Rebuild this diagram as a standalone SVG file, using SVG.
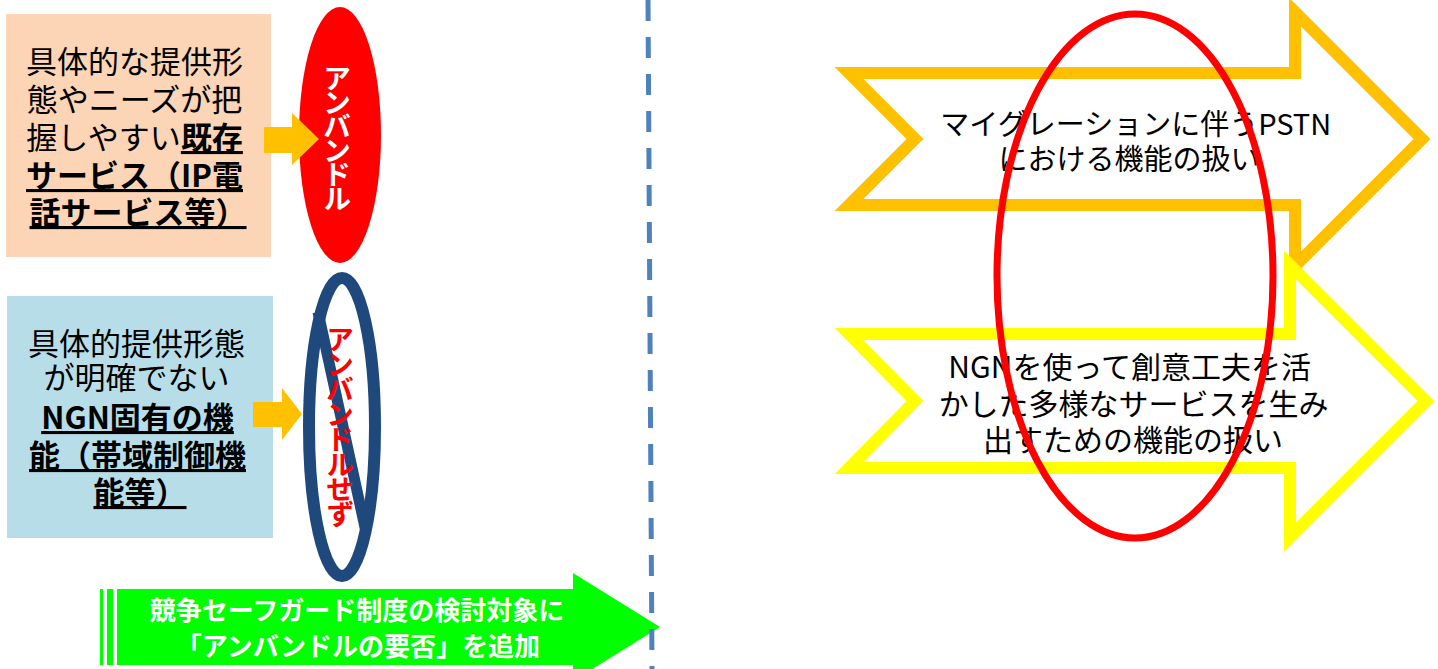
<svg xmlns="http://www.w3.org/2000/svg" width="1438" height="669" viewBox="0 0 1438 669">
<style>
.jp{font-family:"Noto Sans CJK JP","Noto Sans",sans-serif}
.lbl{font-size:31px;fill:#000}
.b{font-weight:bold}
.u{text-decoration:underline}
.blk{fill:#FFC000}
.chev{fill:#FFFFFF;stroke-width:12;stroke-linejoin:miter}
.rt{font-size:29px;fill:#000;text-anchor:middle}
.vt{writing-mode:vertical-rl;text-anchor:middle;font-weight:bold}
</style>
<rect width="1438" height="669" fill="#FFFFFF"/>

<g id="node-existing">
<rect x="6" y="14" width="265" height="243" fill="#FBD5B5"/>
<text class="jp lbl" text-anchor="middle">
<tspan x="138" y="73">具体的な提供形</tspan>
<tspan x="138" y="111">態やニーズが把</tspan>
<tspan x="138" y="149">握しやすい<tspan class="b u">既存</tspan></tspan>
<tspan x="138" y="187" class="b u">サービス（IP電</tspan>
<tspan x="138" y="224" class="b u">話サービス等）</tspan>
</text>
</g>

<g id="node-unbundle">
<ellipse cx="340" cy="135" rx="41" ry="128" fill="#FF0000"/>
<text class="jp vt" x="337" y="136" font-size="28" fill="#FFFFFF" letter-spacing="-4">アンバンドル</text>
</g>

<g id="node-ngn">
<rect x="7" y="296" width="266" height="242" fill="#B7DEE8"/>
<text class="jp lbl" text-anchor="middle">
<tspan x="140" y="355">具体的提供形態</tspan>
<tspan x="140" y="389">が明確でない</tspan>
<tspan x="141" y="429" class="b u">NGN固有の機</tspan>
<tspan x="141" y="467" class="b u">能（帯域制御機</tspan>
<tspan x="140" y="504" class="b u">能等）</tspan>
</text>
</g>

<g id="node-no-unbundle">
<ellipse cx="342" cy="427" rx="33" ry="149" fill="none" stroke="#1F497D" stroke-width="12"/>
<line x1="318" y1="312" x2="366" y2="532" stroke="#1F497D" stroke-width="11"/>
<text class="jp vt" x="340" y="425" font-size="28" fill="#FF0000" letter-spacing="-3">アンバンドルせず</text>
</g>

<g id="connectors">
<polygon class="blk" points="264,127 292,127 292,113 319,139 292,165 292,153 264,153"/>
<polygon class="blk" points="253,402 282,402 282,388 302,414 282,440 282,427 253,427"/>
</g>

<g id="node-safeguard">
<rect x="100" y="589" width="3" height="76" fill="#00FF00"/>
<rect x="107" y="589" width="6" height="76" fill="#00FF00"/>
<polygon points="117,589 573,589 573,573 660,627 573,681 573,665 117,665" fill="#00FF00"/>
<text class="jp b" font-size="26" fill="#FFFFFF" text-anchor="middle">
<tspan x="360" y="620">競争セーフガード制度の検討対象に</tspan>
<tspan x="358" y="656">「アンバンドルの要否」を追加</tspan>
</text>
</g>

<g id="divider">
<line x1="648" y1="0" x2="652" y2="669" stroke="#4F81BD" stroke-width="5" stroke-dasharray="21 16"/>
</g>

<g id="node-pstn">
<polygon class="chev" stroke="#FFC000" points="849,73 1295,73 1295,12 1422,139 1295,266 1295,205 849,205 915,139"/>
<text class="jp rt">
<tspan x="1139" y="135">マイグレーションに伴うPSTN</tspan>
<tspan x="1129" y="170">における機能の扱い</tspan>
</text>
</g>

<g id="node-ngn-functions">
<polygon class="chev" stroke="#FFFF00" points="849,334 1290,334 1290,265 1426,401 1290,537 1290,468 849,468 915,401"/>
<text class="jp rt" style="font-size:30px">
<tspan x="1133" y="378">NGNを使って創意工夫を活</tspan>
<tspan x="1137" y="415">かした多様なサービスを生み</tspan>
<tspan x="1133" y="451">出すための機能の扱い</tspan>
</text>
</g>

<g id="node-focus">
<ellipse cx="1135" cy="276" rx="138" ry="262" fill="none" stroke="#FF0000" stroke-width="7"/>
</g>
</svg>
